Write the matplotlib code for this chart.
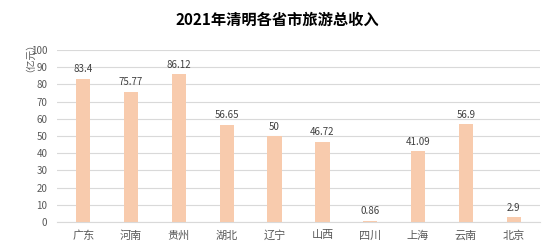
import matplotlib
matplotlib.use("Agg")
import matplotlib.pyplot as plt

plt.rcParams['font.family'] = ['Noto Sans CJK SC', 'DejaVu Sans']

categories = ["广东", "河南", "贵州", "湖北", "辽宁", "山西", "四川", "上海", "云南", "北京"]
values = [83.4, 75.77, 86.12, 56.65, 50, 46.72, 0.86, 41.09, 56.9, 2.9]
labels = ["83.4", "75.77", "86.12", "56.65", "50", "46.72", "0.86", "41.09", "56.9", "2.9"]
yticks = [0, 10, 20, 30, 40, 50, 60, 70, 80, 90, 100]

fig = plt.figure(figsize=(5.54, 2.49), dpi=100)
ax = fig.add_axes([57/554, 1 - 222/249, (540-57)/554, (222-50)/249])

x = list(range(len(categories)))
bars = ax.bar(x, values, width=0.3, color="#F8CBAD", zorder=3)
for xi, v, lab in zip(x, values, labels):
    ax.text(xi, v + 2.5, lab, ha="center", va="bottom", fontsize=7, color="#404040")

ax.set_ylim(0, 100)
ax.set_xlim(-0.55, len(categories) - 0.45)
ax.set_yticks(yticks)
ax.set_xticks(x)
ax.set_xticklabels(categories, fontsize=8, color="#595959")
ax.tick_params(axis="y", labelsize=7, labelcolor="#595959", length=0, pad=7)
ax.tick_params(axis="x", length=0, pad=6)
ax.yaxis.grid(True, color="#D9D9D9", linewidth=0.8, zorder=0)
for s in ["top", "right", "left"]:
    ax.spines[s].set_visible(False)
ax.spines["bottom"].set_color("#D9D9D9")

fig.text(277/554, 1 - 20/249, "2021年清明各省市旅游总收入", ha="center", va="center",
         fontsize=11, fontweight="bold", color="#000000")
fig.text(25/554, 1 - 53/249, "（亿元）", rotation=90, ha="center", va="center",
         fontsize=7, color="#595959")

fig.savefig("out.png", dpi=100)
